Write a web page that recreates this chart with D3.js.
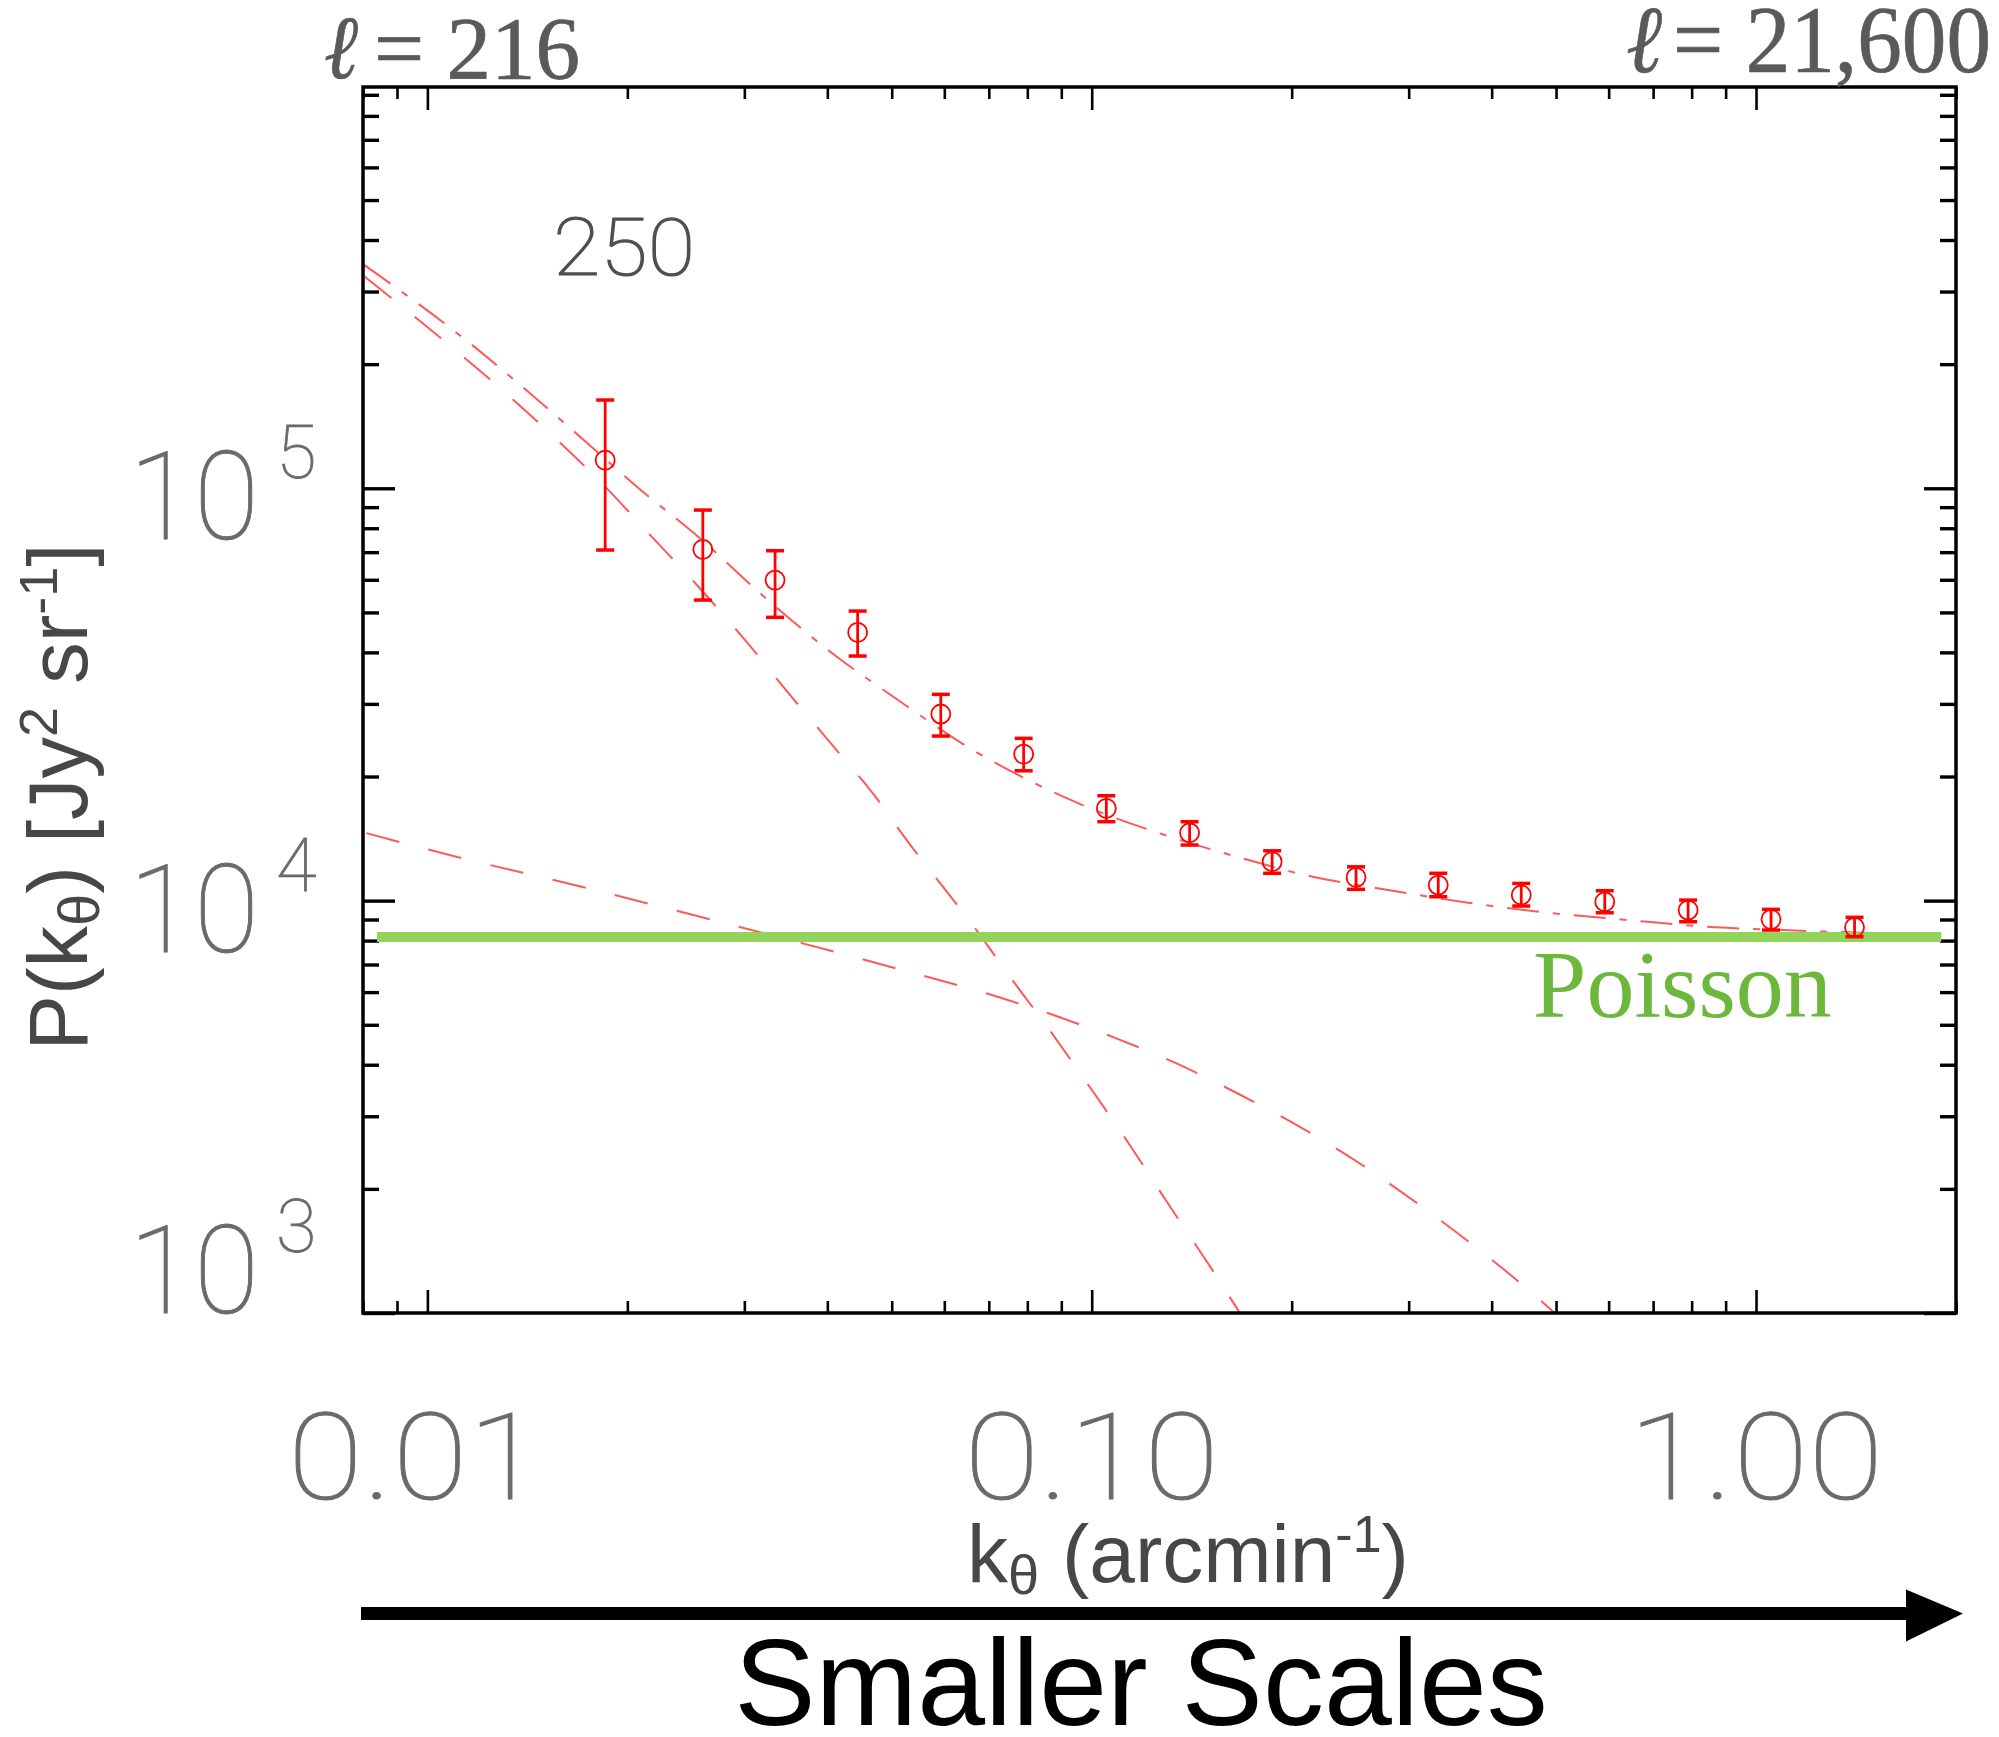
<!DOCTYPE html>
<html><head><meta charset="utf-8">
<script src="https://cdn.jsdelivr.net/npm/d3@7"></script>
<style>html,body{margin:0;padding:0;background:#fff}</style>
</head><body>
<svg id="c" width="1999" height="1737"></svg>
<script>
// ---------- data ----------
const kData  = [0.01852, 0.02598, 0.03337, 0.04443, 0.05927, 0.07899, 0.1052, 0.1404, 0.1869, 0.2500, 0.3324, 0.4432, 0.5920, 0.7903, 1.0534, 1.4070];
const pData  = [117000, 71100, 59900, 44730, 28350, 22670, 16740, 14610, 12430, 11390, 10910, 10320, 9938, 9489, 9008, 8615];
const pLow   = [70830, 53570, 48640, 39190, 25070, 20650, 15540, 13640, 11650, 10650, 10220, 9703, 9347, 8889, 8485, 8177];
const pHigh  = [163700, 88550, 70550, 50380, 31640, 24750, 17960, 15540, 13210, 12080, 11650, 11010, 10570, 10030, 9526, 9110];

const totalK = [0.00804, 0.01102, 0.01709, 0.02067, 0.02574, 0.03170, 0.04133, 0.05028, 0.06558, 0.07664, 0.09824, 0.1266, 0.1652, 0.2151, 0.2836, 0.3686, 0.4862, 0.6412, 0.8395, 1.0997, 1.4505, 1.914];
const totalP = [347700, 239600, 132100, 100800, 75580, 55630, 39040, 31220, 23410, 20360, 16890, 14560, 12780, 11430, 10570, 9884, 9347, 8975, 8644, 8485, 8359, 8298];

const twoHaloK = [0.00805, 0.01064, 0.01288, 0.01540, 0.01842, 0.02165, 0.02559, 0.03008, 0.03516, 0.04109, 0.04747, 0.05177, 0.06827, 0.07456, 0.08640, 0.09927, 0.1141, 0.1302, 0.1496, 0.1667];
const twoHaloP = [325800, 226600, 174700, 134600, 101800, 77000, 57690, 42840, 31520, 23410, 17700, 14560, 8160, 6685, 4856, 3538, 2555, 1845, 1320, 1007];

const oneHaloK = [0.008095, 0.01137, 0.01635, 0.02317, 0.05306, 0.06745, 0.08506, 0.1072, 0.1342, 0.1667, 0.2070, 0.2550, 0.3117, 0.3783, 0.4590, 0.4997];
const oneHaloP = [14580, 12630, 10990, 9541, 6720, 6040, 5365, 4680, 4029, 3392, 2811, 2288, 1827, 1445, 1122, 994];

const poissonLevel = 8160;
const poissonK = [0.0084, 1.9];

const xDomain = [0.008, 2.0];
const yDomain = [1000, 9.4e5];
const xMajor = [0.01, 0.1, 1];
const xTickLabels = ["0.01", "0.10", "1.00"];
const yMajor = [1e5, 1e4, 1e3];
const yTickExp = ["5", "4", "3"];
const topLabelEll = "\u2113";
const topLabelVals = ["= 216", "= 21,600"];
const panelLabel = "250";

// ---------- layout ----------
const svg = d3.select("#c");
const L = 363, R = 1956, T = 87, B = 1313;
const x = d3.scaleLog().domain(xDomain).range([L, R]);
const y = d3.scaleLog().domain(yDomain).range([B, T]);

svg.append("rect").attr("width",1999).attr("height",1737).attr("fill","#fff");
svg.append("defs").append("clipPath").attr("id","plot")
  .append("rect").attr("x",L).attr("y",T).attr("width",R-L).attr("height",B-T);

// ---------- ticks ----------
const isMajor = (v, majors) => majors.some(m => Math.abs(Math.log10(v) - Math.log10(m)) < 1e-6);
const xAll = x.ticks();
const xMinor = xAll.filter(v => !isMajor(v, xMajor));
const yAll = y.ticks();
const yMinor = yAll.filter(v => !isMajor(v, [1e3,1e4,1e5,1e6]));
const yMaj = yAll.filter(v => isMajor(v, [1e3,1e4,1e5,1e6]));

function axis(gen, tr, vals, size, sw){
  const g = svg.append("g").attr("transform", tr)
    .call(gen.tickValues(vals).tickSize(size).tickSizeOuter(0).tickFormat(""));
  g.select(".domain").remove();
  g.selectAll("line").attr("stroke","#000").attr("stroke-width", sw);
}
axis(d3.axisBottom(x), `translate(0,${B})`, xMajor, -23, 2.6);
axis(d3.axisBottom(x), `translate(0,${B})`, xMinor, -12, 2.6);
axis(d3.axisTop(x), `translate(0,${T})`, xMajor, -23, 2.6);
axis(d3.axisTop(x), `translate(0,${T})`, xMinor, -12, 2.6);
axis(d3.axisLeft(y), `translate(${L},0)`, yMaj, -32, 3.4);
axis(d3.axisLeft(y), `translate(${L},0)`, yMinor, -16, 3.4);
axis(d3.axisRight(y), `translate(${R},0)`, yMaj, -32, 3.4);
axis(d3.axisRight(y), `translate(${R},0)`, yMinor, -16, 3.4);

// ---------- model curves ----------
const plot = svg.append("g").attr("clip-path","url(#plot)");
const line = d3.line().x(d => x(d[0])).y(d => y(d[1])).curve(d3.curveMonotoneX);
const red = "#ff3b3b";
plot.append("path").datum(d3.zip(twoHaloK, twoHaloP)).attr("d", line)
  .attr("fill","none").attr("stroke",red).attr("stroke-opacity",0.85).attr("stroke-width",2)
  .attr("stroke-dasharray","34,30");
plot.append("path").datum(d3.zip(oneHaloK, oneHaloP)).attr("d", line)
  .attr("fill","none").attr("stroke",red).attr("stroke-opacity",0.85).attr("stroke-width",2)
  .attr("stroke-dasharray","34,30");
plot.append("path").datum(d3.zip(totalK, totalP)).attr("d", line)
  .attr("fill","none").attr("stroke",red).attr("stroke-opacity",0.85).attr("stroke-width",2)
  .attr("stroke-dasharray","32,14,7,14");

// Poisson
plot.append("line")
  .attr("x1", x(poissonK[0])).attr("x2", x(poissonK[1]))
  .attr("y1", y(poissonLevel)).attr("y2", y(poissonLevel))
  .attr("stroke","#93d25b").attr("stroke-width",10);

// ---------- data points ----------
const pts = kData.map((k,i) => ({k, p:pData[i], lo:pLow[i], hi:pHigh[i]}));
const dg = svg.append("g");
dg.selectAll("line.eb").data(pts).join("line").attr("class","eb")
  .attr("x1", d=>x(d.k)).attr("x2", d=>x(d.k))
  .attr("y1", d=>y(d.lo)).attr("y2", d=>y(d.hi))
  .attr("stroke","#ff0000").attr("stroke-width",2.8);
["lo","hi"].forEach(key => {
  dg.selectAll("line.cap"+key).data(pts).join("line").attr("class","cap"+key)
    .attr("x1", d=>x(d.k)-9).attr("x2", d=>x(d.k)+9)
    .attr("y1", d=>y(d[key])).attr("y2", d=>y(d[key]))
    .attr("stroke","#ff0000").attr("stroke-width",3.5);
});
dg.selectAll("circle").data(pts).join("circle")
  .attr("cx", d=>x(d.k)).attr("cy", d=>y(d.p)).attr("r",9.5)
  .attr("fill","none").attr("stroke","#ff0000").attr("stroke-width",1.8);

// ---------- frame ----------
svg.append("rect").attr("x",L).attr("y",T).attr("width",R-L).attr("height",B-T)
  .attr("fill","none").attr("stroke","#000").attr("stroke-width",3.5);

// ---------- tick labels ----------
const thin = {family:"Roboto, 'Liberation Sans', sans-serif", weight:100};
xMajor.forEach((v,i) => {
  svg.append("text").attr("x", x(v) - (i===0 ? 12 : 0)).attr("y", 1499)
    .attr("text-anchor","middle")
    .attr("font-family", thin.family).attr("font-weight", thin.weight)
    .attr("font-size",120).attr("fill","#6a6a6a").attr("stroke","#6a6a6a").attr("stroke-width",0.9)
    .attr("textLength",255).attr("lengthAdjust","spacingAndGlyphs")
    .text(xTickLabels[i]);
});
yMajor.forEach((v,i) => {
  const base = Math.min(y(v) + 51, B);
  svg.append("text").attr("x",129).attr("y",base)
    .attr("font-family", thin.family).attr("font-weight", thin.weight)
    .attr("font-size",122).attr("fill","#6a6a6a").attr("stroke","#6a6a6a").attr("stroke-width",0.9)
    .attr("textLength",130).attr("lengthAdjust","spacingAndGlyphs")
    .text("10");
  svg.append("text").attr("x",276).attr("y",base-61)
    .attr("font-family", thin.family).attr("font-weight", thin.weight)
    .attr("font-size",74).attr("fill","#6a6a6a").attr("stroke","#6a6a6a").attr("stroke-width",0.8)
    .text(yTickExp[i]);
});

// ---------- axis titles ----------
const yt = svg.append("text").attr("transform","translate(87,797) rotate(-90)")
  .attr("text-anchor","middle").attr("font-family","'Liberation Sans', Arial, sans-serif")
  .attr("font-size",83).attr("fill","#474747");
yt.append("tspan").text("P(k");
yt.append("tspan").attr("font-size",58).attr("dy",12).text("\u03b8");
yt.append("tspan").attr("dy",-12).text(") [Jy");
yt.append("tspan").attr("font-size",54).attr("dy",-30).text("2");
yt.append("tspan").attr("dy",30).text(" sr");
yt.append("tspan").attr("font-size",54).attr("dy",-30).text("-1");
yt.append("tspan").attr("dy",30).text("]");

const xt = svg.append("text").attr("x",1188).attr("y",1582)
  .attr("text-anchor","middle").attr("font-family","'Liberation Sans', Arial, sans-serif")
  .attr("font-size",82).attr("fill","#474747");
xt.append("tspan").text("k");
xt.append("tspan").attr("font-size",56).attr("dy",12).text("\u03b8");
xt.append("tspan").attr("dy",-12).text(" (arcmin");
xt.append("tspan").attr("font-size",52).attr("dy",-30).text("-1");
xt.append("tspan").attr("dy",30).text(")");

// ---------- annotations ----------
svg.append("text").attr("x",553).attr("y",275)
  .attr("font-family", thin.family).attr("font-weight",100)
  .attr("font-size",80).attr("fill","#4f4f4f").attr("stroke","#4f4f4f").attr("stroke-width",1.2)
  .attr("textLength",142).attr("lengthAdjust","spacingAndGlyphs")
  .text(panelLabel);

// top "ell" labels: tall condensed serif
const serif = "'Liberation Serif', 'Times New Roman', serif";
function ellLabel(x0, base, ellW, restX, restW, size, txt){
  const g = svg.append("g").attr("fill","#5a5a5a").attr("stroke","#5a5a5a").attr("stroke-width",0.5)
    .attr("font-family", serif);
  g.append("text").attr("transform",`translate(${x0},${base}) scale(1,1.45)`)
    .attr("font-style","italic").attr("font-size",size)
    .attr("textLength",ellW).attr("lengthAdjust","spacingAndGlyphs").text(topLabelEll);
  g.append("text").attr("transform",`translate(${restX},${base}) scale(1,1.45)`)
    .attr("font-size",size)
    .attr("textLength",restW).attr("lengthAdjust","spacingAndGlyphs").text(txt);
}
ellLabel(324, 78, 34, 374, 206, 62, topLabelVals[0]);
ellLabel(1626, 72, 36, 1673, 318, 66, topLabelVals[1]);

svg.append("text").attr("x",1533).attr("y",1017)
  .attr("font-family",serif)
  .attr("font-size",96).attr("fill","#6cb83d")
  .text("Poisson");

// arrow
const ay = 1613.5;
svg.append("line").attr("x1", L-2).attr("x2", R-46).attr("y1", ay).attr("y2", ay)
  .attr("stroke","#000").attr("stroke-width",13);
svg.append("path")
  .attr("d", `M${R-50},${ay-24} L${R+7},${ay} L${R-50},${ay+28} Z`)
  .attr("fill","#000");

svg.append("text").attr("x",1141).attr("y",1725)
  .attr("text-anchor","middle").attr("font-family","'Liberation Sans', Arial, sans-serif")
  .attr("font-size",122).attr("fill","#000")
  .text("Smaller Scales");
</script>
</body></html>
